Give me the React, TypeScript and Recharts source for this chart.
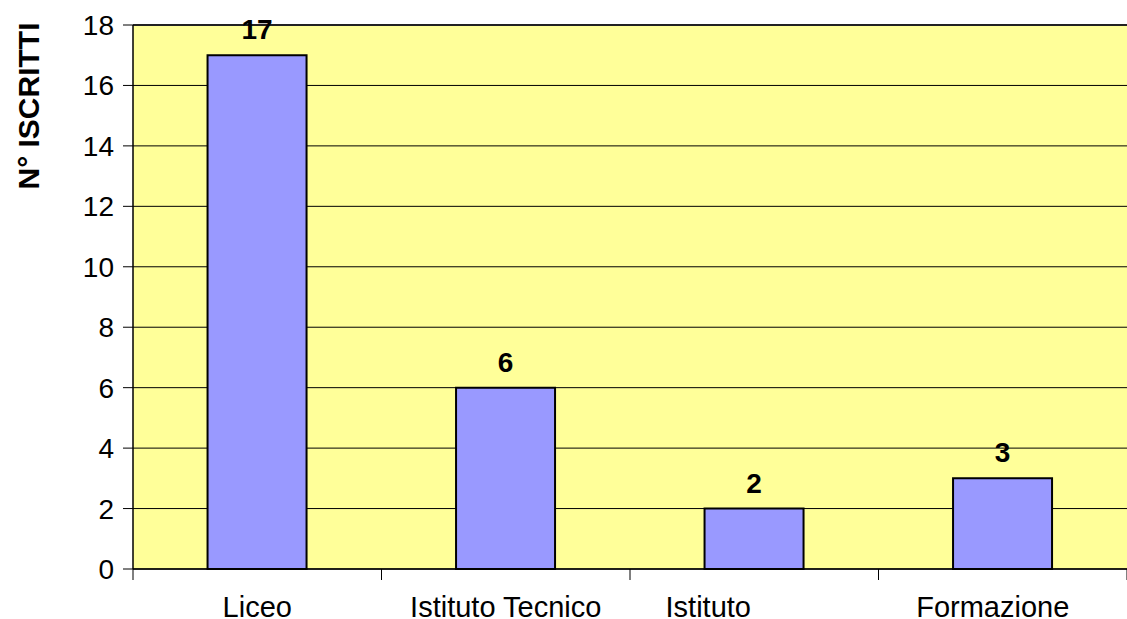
import React from "react";
import {
  BarChart,
  Bar,
  XAxis,
  YAxis,
  CartesianGrid,
  LabelList,
  Label,
  ReferenceLine,
} from "recharts";

const categories = ["Liceo", "Istituto Tecnico", "Istituto", "Formazione"];
const iscritti = [17, 6, 2, 3];
const yTicks = [0, 2, 4, 6, 8, 10, 12, 14, 16, 18];
const yTitle = "N° ISCRITTI";

const data = categories.map((c, i) => ({ name: c, value: iscritti[i] }));

const W = 1127;
const H = 619;
const LEFT = 133;
const RIGHT_MARGIN = 0;
const TOP = 25;
const XAXIS_H = 50;
const BAND = (W - LEFT - RIGHT_MARGIN) / categories.length;
const LABEL_DX = [0, 0, -46, -10];
const FONT = "'Liberation Sans', Arial, sans-serif";

const XTick = (props: any) => {
  const { x, y, payload, index } = props;
  const half = BAND / 2;
  return (
    <g>
      <line x1={x - half} y1={y} x2={x - half} y2={y + 11} stroke="#000" strokeWidth={1} />
      {index === categories.length - 1 && (
        <line x1={x + half} y1={y} x2={x + half} y2={y + 11} stroke="#000" strokeWidth={1} />
      )}
      <text
        x={x + (LABEL_DX[index] || 0)}
        y={y + 48}
        textAnchor="middle"
        fontSize={29}
        fontFamily={FONT}
        fill="#000"
      >
        {payload.value}
      </text>
    </g>
  );
};

const YTick = (props: any) => {
  const { x, y, payload } = props;
  return (
    <text
      x={x}
      y={y}
      dy={10}
      textAnchor="end"
      fontSize={28}
      fontFamily={FONT}
      fill="#000"
    >
      {payload.value}
    </text>
  );
};

const renderTitle = () => (
  <text
    x={39}
    y={106}
    transform="rotate(-90 39 106)"
    textAnchor="middle"
    fontSize={30}
    fontWeight="bold"
    fontFamily={FONT}
    fill="#000"
  >
    {yTitle}
  </text>
);

export default function App() {
  return (
    <div style={{ position: "absolute", left: 0, top: 0, width: W, height: H, background: "#fff" }}>
      <BarChart
        width={W}
        height={H}
        data={data}
        margin={{ top: TOP, right: RIGHT_MARGIN, bottom: 0, left: 0 }}
        barCategoryGap="30%"
      >
        <CartesianGrid
          vertical={false}
          horizontal={true}
          stroke="#000"
          strokeWidth={1}
          fill="#FFFF99"
          fillOpacity={1}
        />
        <XAxis
          dataKey="name"
          height={XAXIS_H}
          tickLine={false}
          tickSize={0}
          tickMargin={0}
          axisLine={{ stroke: "#000", strokeWidth: 1.5 }}
          tick={<XTick />}
          interval={0}
        />
        <YAxis
          width={LEFT}
          domain={[0, 18]}
          ticks={yTicks}
          interval={0}
          tickSize={10}
          tickMargin={9}
          tickLine={{ stroke: "#000" }}
          axisLine={{ stroke: "#000", strokeWidth: 1.5 }}
          tick={<YTick />}
        >
          <Label content={renderTitle} />
        </YAxis>
        <ReferenceLine y={18} stroke="#222" strokeWidth={2} />
        <Bar
          dataKey="value"
          fill="#9999FF"
          stroke="#000"
          strokeWidth={2}
          isAnimationActive={false}
        >
          <LabelList
            dataKey="value"
            position="top"
            offset={16}
            fill="#000"
            fontSize={28}
            fontWeight="bold"
            fontFamily={FONT}
          />
        </Bar>
      </BarChart>
    </div>
  );
}
